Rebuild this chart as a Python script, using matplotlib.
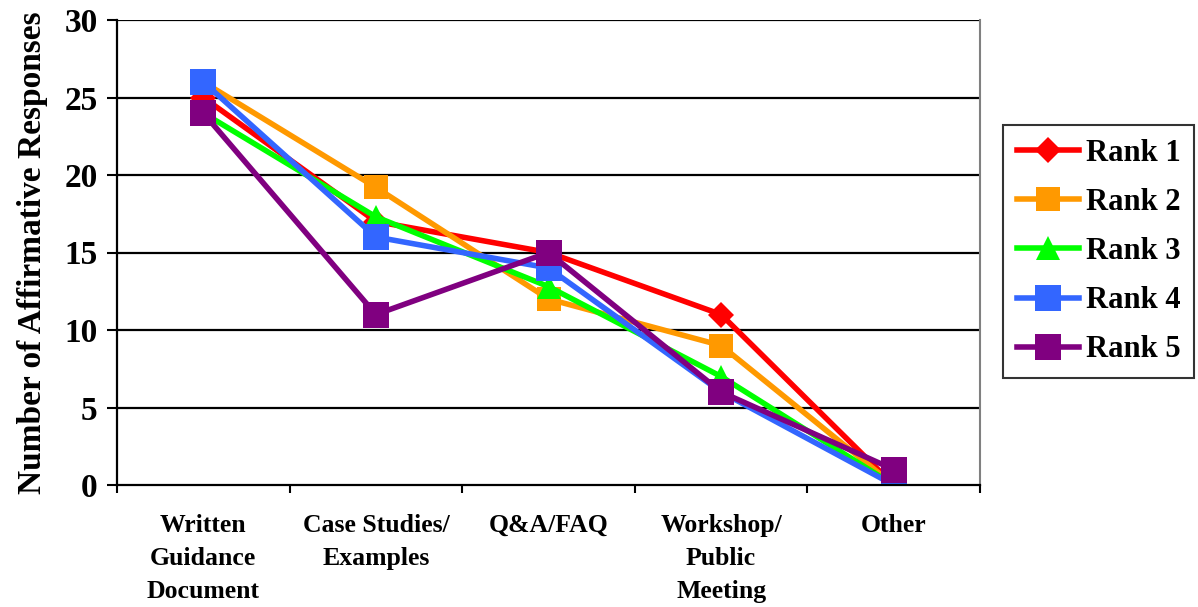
# line chart: affirmative responses per resource type, by rank
import numpy as np
import matplotlib
matplotlib.use('Agg')
import matplotlib.pyplot as plt

categories = ['Written\nGuidance\nDocument', 'Case Studies/\nExamples', 'Q&A/FAQ',
              'Workshop/\nPublic\nMeeting', 'Other']
rank1 = [25, 17, 15, 11, 0]
rank2 = [26, 19.2, 12, 9, 0]
rank3 = [24, 17.3, 12.8, 7, 0]
rank4 = [26, 16, 14, 6, 0]
rank5 = [24, 11, 15, 6, 1]

series = [
    ('Rank 1', rank1, '#FF0000', 'D', 13),
    ('Rank 2', rank2, '#FF9900', 's', 17),
    ('Rank 3', rank3, '#00FF00', '^', 17),
    ('Rank 4', rank4, '#3366FF', 's', 19),
    ('Rank 5', rank5, '#800080', 's', 19),
]

plt.rcParams['font.family'] = ['Liberation Serif', 'DejaVu Serif']
plt.rcParams['font.weight'] = 'bold'

fig = plt.figure(figsize=(11.98, 6.07), dpi=100)
ax = fig.add_axes([117/1198, 1-485/607, (980-117)/1198, (485-20)/607])

x = np.arange(len(categories))
for name, vals, col, mk, ms in series:
    ax.plot(x, vals, color=col, lw=4, marker=mk, markersize=ms,
            markeredgewidth=0, label=name)

ax.set_xlim(-0.5, len(categories)-0.5)
ax.set_ylim(0, 30)
ax.set_yticks(np.arange(0, 31, 5))
for yv in np.arange(5, 31, 5):
    ax.axhline(yv, color='black', lw=1.6, zorder=0)

# category boundaries get the tick marks, names sit in between
ax.set_xticks(np.arange(-0.5, len(categories), 1))
ax.set_xticklabels([])
ax.set_xticks(x, minor=True)
ax.set_xticklabels(categories, minor=True, fontsize=18.5, fontweight='bold',
                   linespacing=1.55, va='top')
ax.tick_params(axis='x', which='minor', length=0, pad=21)
ax.tick_params(axis='x', which='major', direction='out', length=6, width=1.5)
ax.tick_params(axis='y', direction='out', length=7, width=1.5, labelsize=24, pad=7)
for lab in ax.get_yticklabels():
    lab.set_fontweight('bold')

ax.spines['top'].set_visible(False)
ax.spines['right'].set_color('#808080')
ax.spines['right'].set_linewidth(1.5)
ax.spines['left'].set_linewidth(1.6)
ax.spines['bottom'].set_linewidth(1.6)

ax.set_ylabel('Number of Affirmative Responses', fontsize=24, fontweight='bold', labelpad=12)

leg = fig.legend(loc='upper left', bbox_to_anchor=(1003/1198, 1-125/607),
                 fontsize=22, frameon=True, fancybox=False, edgecolor='black',
                 handlelength=2.05, labelspacing=0.66, borderpad=0.45,
                 handletextpad=0.2, borderaxespad=0)
leg.get_frame().set_linewidth(1.5)
for t in leg.get_texts():
    t.set_fontweight('bold')

fig.savefig('out.png', dpi=100)
